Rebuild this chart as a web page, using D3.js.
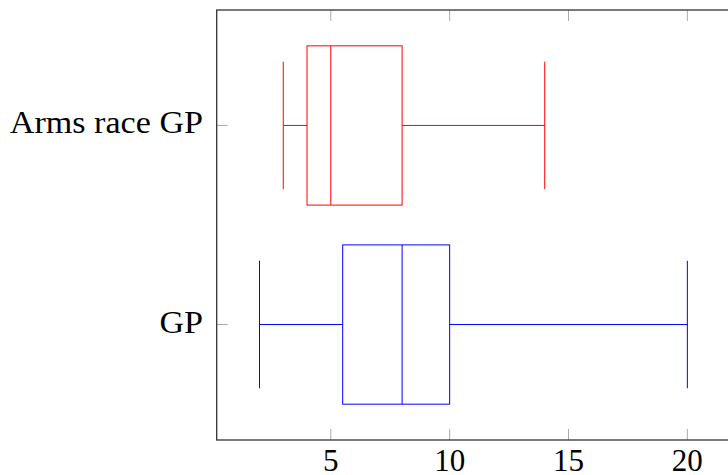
<!DOCTYPE html>
<html>
<head>
<meta charset="utf-8">
<script src="https://cdn.jsdelivr.net/npm/d3@7"></script>
<style>
  body { margin: 0; background: #fff; }
  svg text { font-family: "Liberation Serif", "DejaVu Serif", serif; fill: #000; }
</style>
</head>
<body>
<div id="chart"></div>
<script>
// box plot data
const categories = ['GP', 'Arms race GP'];
const positions = [1, 2];
const lowerWhisker = [2, 3];
const lowerQuartile = [5.5, 4];
const medians = [8, 5];
const upperQuartile = [10, 8];
const upperWhisker = [20, 14];
const colors = ['blue', 'red'];
const xTicks = [5, 10, 15, 20];

const width = 728, height = 475;
const plotLeft = 216.7, plotTop = 10, plotBottom = 440;

const svg = d3.select('#chart').append('svg')
  .attr('width', width)
  .attr('height', height);

const x = d3.scaleLinear().domain([0.2, 21.8]).range([plotLeft, plotLeft + 21.6 * 23.77]);
const y = d3.scaleLinear().domain([0.42, 2.58]).range([plotBottom, plotTop]);

const boxHalf = 0.4, capHalf = 0.32;

// boxes
const boxes = svg.selectAll('g.box')
  .data(categories)
  .enter()
  .append('g')
  .attr('class', 'box')
  .attr('fill', 'none')
  .attr('stroke', (d, i) => colors[i])
  .attr('stroke-width', 1);

boxes.append('rect')
  .attr('x', (d, i) => x(lowerQuartile[i]))
  .attr('y', (d, i) => y(positions[i] + boxHalf))
  .attr('width', (d, i) => x(upperQuartile[i]) - x(lowerQuartile[i]))
  .attr('height', y(0) - y(2 * boxHalf));

boxes.append('line') // median
  .attr('x1', (d, i) => x(medians[i]))
  .attr('x2', (d, i) => x(medians[i]))
  .attr('y1', (d, i) => y(positions[i] + boxHalf))
  .attr('y2', (d, i) => y(positions[i] - boxHalf));

boxes.append('line') // lower whisker
  .attr('x1', (d, i) => x(lowerWhisker[i]))
  .attr('x2', (d, i) => x(lowerQuartile[i]))
  .attr('y1', (d, i) => y(positions[i]))
  .attr('y2', (d, i) => y(positions[i]));

boxes.append('line') // upper whisker
  .attr('x1', (d, i) => x(upperQuartile[i]))
  .attr('x2', (d, i) => x(upperWhisker[i]))
  .attr('y1', (d, i) => y(positions[i]))
  .attr('y2', (d, i) => y(positions[i]));

boxes.append('line') // lower cap
  .attr('x1', (d, i) => x(lowerWhisker[i]))
  .attr('x2', (d, i) => x(lowerWhisker[i]))
  .attr('y1', (d, i) => y(positions[i] + capHalf))
  .attr('y2', (d, i) => y(positions[i] - capHalf));

boxes.append('line') // upper cap
  .attr('x1', (d, i) => x(upperWhisker[i]))
  .attr('x2', (d, i) => x(upperWhisker[i]))
  .attr('y1', (d, i) => y(positions[i] + capHalf))
  .attr('y2', (d, i) => y(positions[i] - capHalf));

// tick marks, inside the frame, grey
const tickLen = 11;
const ticks = svg.append('g').attr('stroke', '#aaa').attr('stroke-width', 1);
ticks.selectAll('line.xb')
  .data(xTicks).enter().append('line')
  .attr('x1', d => x(d)).attr('x2', d => x(d))
  .attr('y1', plotBottom).attr('y2', plotBottom - tickLen);
ticks.selectAll('line.xt')
  .data(xTicks).enter().append('line')
  .attr('x1', d => x(d)).attr('x2', d => x(d))
  .attr('y1', plotTop).attr('y2', plotTop + tickLen);
ticks.selectAll('line.yl')
  .data(positions).enter().append('line')
  .attr('x1', plotLeft).attr('x2', plotLeft + tickLen)
  .attr('y1', d => y(d)).attr('y2', d => y(d));

// frame (right side falls just outside the window)
svg.append('rect')
  .attr('x', plotLeft)
  .attr('y', plotTop)
  .attr('width', x(21.8) - plotLeft + 3)
  .attr('height', plotBottom - plotTop)
  .attr('fill', 'none')
  .attr('stroke', '#333')
  .attr('stroke-width', 1.3);

// tick labels
svg.selectAll('text.xl')
  .data(xTicks).enter().append('text')
  .attr('x', d => x(d))
  .attr('y', 471)
  .attr('text-anchor', 'middle')
  .attr('font-size', 31)
  .text(d => d);

svg.selectAll('text.yl')
  .data(categories).enter().append('text')
  .attr('x', 203)
  .attr('y', (d, i) => y(positions[i]) + 8)
  .attr('text-anchor', 'end')
  .attr('font-size', 31)
  .text(d => d)
  .each(function () {
    // the original face is a bit wider than Liberation Serif
    const w = this.getComputedTextLength();
    d3.select(this).attr('textLength', w * 1.1).attr('lengthAdjust', 'spacingAndGlyphs');
  });
</script>
</body>
</html>
